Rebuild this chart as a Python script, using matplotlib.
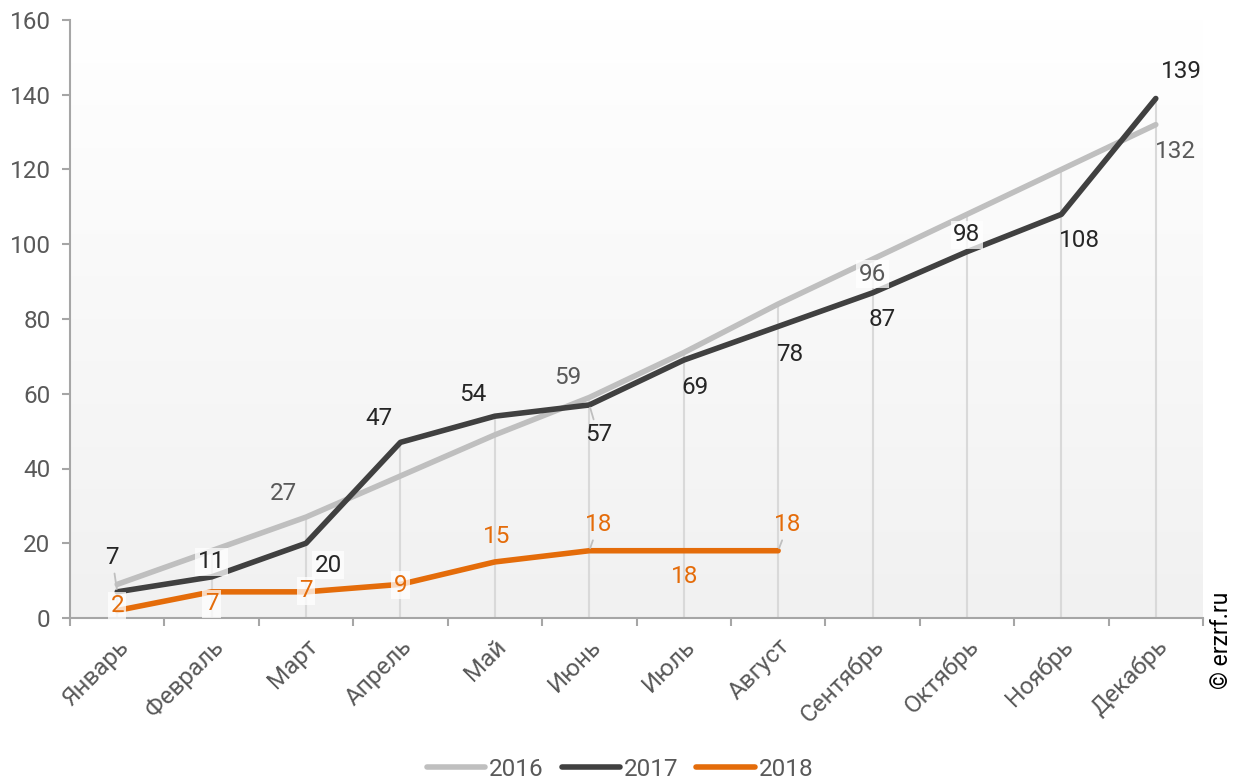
import numpy as np
import matplotlib.pyplot as plt
from matplotlib.colors import LinearSegmentedColormap

plt.rcParams['font.family'] = ['Roboto', 'DejaVu Sans']

months = ['Январь', 'Февраль', 'Март', 'Апрель', 'Май', 'Июнь',
          'Июль', 'Август', 'Сентябрь', 'Октябрь', 'Ноябрь', 'Декабрь']
y2016 = [9, 18, 27, 38, 49, 59, 71, 84, 96, 108, 120, 132]
y2017 = [7, 11, 20, 47, 54, 57, 69, 78, 87, 98, 108, 139]
y2018 = [2, 7, 7, 9, 15, 18, 18, 18]

# which 2016 points carry a label
labels2016 = [None, None, 27, None, None, 59, None, None, 96, None, None, 132]

# label offsets in pixels (dx, dy), white box, leader line
off2016 = {2: (-23, 24, False, False), 5: (-22, 20, False, False),
           8: (0, -15, True, False), 11: (20, -27, False, False)}
off2017 = [(-5, 34, False, True), (0, 15, True, False), (22, -22, True, False),
           (-22, 24, False, False), (-22, 22, False, False), (9, -30, False, True),
           (11, -27, False, False), (12, -28, False, False), (10, -27, False, False),
           (0, 17, True, False), (18, -26, False, False), (26, 27, False, False)]
off2018 = [(0, 5, True, False), (0, -12, True, False), (0, 1, True, False),
           (0, -1, True, False), (2, 25, False, False), (9, 26, False, True),
           (1, -26, False, False), (10, 26, False, True)]

c16, c17, c18 = '#bfbfbf', '#404040', '#e46c0a'
txt_grey = '#595959'
fs = 17.5

fig = plt.figure(figsize=(12.4, 7.8), dpi=100)
ax = fig.add_axes([70 / 1240, 1 - 618 / 780, (1203 - 70) / 1240, (618 - 20) / 780])

x = np.arange(len(months))
ax.set_xlim(-0.5, 11.5)
ax.set_ylim(0, 160)

# soft vertical gradient behind the plot
grad = LinearSegmentedColormap.from_list('bg', ['#f1f1f1', '#ffffff'])
ax.imshow(np.linspace(0, 1, 256).reshape(-1, 1), cmap=grad, origin='lower',
          extent=(-0.5, 11.5, 0, 160), aspect='auto', zorder=0)

# drop lines down from the highest value in every month
tops = [max(v) for v in zip(y2016, y2017)]
ax.vlines(x, 0, tops, color='#d9d9d9', lw=1.5, zorder=1)

ax.plot(x, y2016, color=c16, lw=4, solid_capstyle='round', zorder=2, label='2016')
ax.plot(x, y2017, color=c17, lw=4, solid_capstyle='round', zorder=3, label='2017')
ax.plot(x[:len(y2018)], y2018, color=c18, lw=4, solid_capstyle='round', zorder=4, label='2018')


def put_label(xi, yi, dx, dy, boxed, leader, color):
    bbox = dict(boxstyle='square,pad=0.1', fc='white', ec='none', alpha=0.75) if boxed else None
    arrow = dict(arrowstyle='-', color='#bfbfbf', lw=1.3, shrinkA=1, shrinkB=2) if leader else None
    ax.annotate(str(yi), (xi, yi), xytext=(dx, dy), textcoords='offset pixels',
                ha='center', va='center', fontsize=fs, color=color,
                bbox=bbox, arrowprops=arrow, zorder=6)


for i, lab in enumerate(labels2016):
    if lab is not None:
        dx, dy, b, l = off2016[i]
        put_label(i, lab, dx, dy, b, l, txt_grey)
for i, v in enumerate(y2017):
    dx, dy, b, l = off2017[i]
    put_label(i, v, dx, dy, b, l, '#262626')
for i, v in enumerate(y2018):
    dx, dy, b, l = off2018[i]
    put_label(i, v, dx, dy, b, l, c18)

# axes styling
for s in ['top', 'right']:
    ax.spines[s].set_visible(False)
for s in ['left', 'bottom']:
    ax.spines[s].set_color('#a6a6a6')
    ax.spines[s].set_linewidth(1.5)

ax.set_yticks(range(0, 161, 20))
ax.tick_params(axis='y', colors='#a6a6a6', labelcolor=txt_grey, labelsize=fs,
               length=6, width=1.5, pad=8)
ax.set_xticks(x)
ax.set_xticklabels(months, rotation=45, ha='right', rotation_mode='anchor')
ax.set_xticks(np.arange(-0.5, 12, 1), minor=True)
ax.tick_params(axis='x', which='major', length=0, labelcolor=txt_grey,
               labelsize=fs, pad=12)
ax.tick_params(axis='x', which='minor', length=6, width=1.5, colors='#a6a6a6')

fig.legend(loc='center', bbox_to_anchor=(0.5, 1 - 769 / 780), ncol=3, frameon=False,
           fontsize=fs, handlelength=2.4, handletextpad=0.15, columnspacing=0.75,
           labelcolor=txt_grey)

fig.text(1222 / 1240, 1 - 640 / 780, '© erzrf.ru', rotation=90, ha='center',
         va='center', fontsize=16.5, color='#000000')

fig.savefig('out.png', dpi=100)
